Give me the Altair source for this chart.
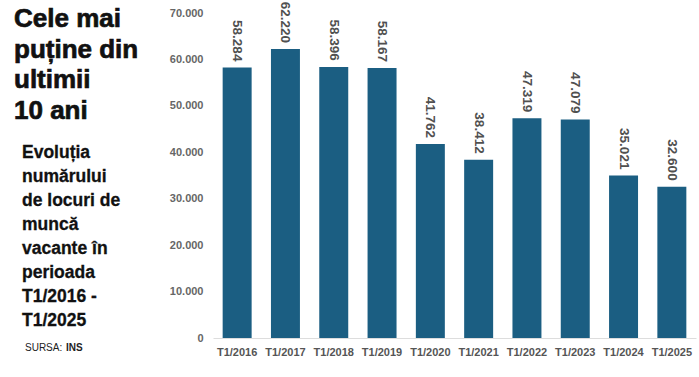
import altair as alt
import pandas as pd

categories = ["T1/2016", "T1/2017", "T1/2018", "T1/2019", "T1/2020",
              "T1/2021", "T1/2022", "T1/2023", "T1/2024", "T1/2025"]
values = [58284, 62220, 58396, 58167, 41762, 38412, 47319, 47079, 35021, 32600]
labels = ["58.284", "62.220", "58.396", "58.167", "41.762",
          "38.412", "47.319", "47.079", "35.021", "32.600"]

title_lines = ["Cele mai", "puține din", "ultimii", "10 ani"]
subtitle_lines = ["Evoluția", "numărului", "de locuri de", "muncă",
                  "vacante în", "perioada", "T1/2016 -", "T1/2025"]

df = pd.DataFrame({"cat": categories, "val": values, "lab": labels})

BAR = "#1b5e82"
LIB = "'Liberation Sans', Arial, sans-serif"

base = alt.Chart(df)

bars = base.mark_bar(color=BAR).encode(
    x=alt.X("cat:N", sort=categories,
            scale=alt.Scale(paddingInner=0.4, paddingOuter=0.2),
            axis=alt.Axis(title=None, labelAngle=0, ticks=False, domain=True,
                          domainColor="#dddddd", labelFont=LIB, labelFontSize=11,
                          labelFontWeight="bold", labelColor="#555555",
                          labelPadding=8)),
    y=alt.Y("val:Q", scale=alt.Scale(domain=[0, 70000], nice=False),
            axis=alt.Axis(title=None, values=[0, 10000, 20000, 30000, 40000, 50000, 60000, 70000],
                          grid=False, domain=False, ticks=False,
                          labelExpr="replace(format(datum.value, ','), ',', '.')",
                          labelFont=LIB, labelFontSize=11, labelFontWeight="bold",
                          labelColor="#666666", labelPadding=10)),
)

text = base.mark_text(angle=90, align="right", baseline="middle", dx=-6,
                      font=LIB, fontSize=13.5, fontWeight="bold", color="#505050").encode(
    x=alt.X("cat:N", sort=categories),
    y="val:Q",
    text="lab:N",
)

one = alt.Data(values=[{}])

title_txt = alt.Chart(one).mark_text(
    text=title_lines, align="left", baseline="alphabetic", lineHeight=30.5,
    font=LIB, fontSize=26, fontWeight="bold",
    color="#111111", stroke="#111111", strokeWidth=0.7
).encode(x=alt.value(-199), y=alt.value(14))

sub_txt = alt.Chart(one).mark_text(
    text=subtitle_lines, align="left", baseline="alphabetic", lineHeight=24,
    font=LIB, fontSize=17.5, fontWeight="bold", color="#111111",
    stroke="#111111", strokeWidth=0.3
).encode(x=alt.value(-191), y=alt.value(145))

src1 = alt.Chart(one).mark_text(
    text="SURSA:", align="left", baseline="alphabetic",
    font=LIB, fontSize=10, color="#222222"
).encode(x=alt.value(-188), y=alt.value(338))

src2 = alt.Chart(one).mark_text(
    text="INS", align="left", baseline="alphabetic",
    font=LIB, fontSize=10, fontWeight="bold", color="#222222"
).encode(x=alt.value(-147), y=alt.value(338))

chart = alt.layer(bars, text, title_txt, sub_txt, src1, src2).properties(
    width=483, height=325,
    autosize=alt.AutoSizeParams(type="none"),
    padding={"left": 213, "top": 13, "right": 3, "bottom": 39},
    background="white",
).configure_view(stroke=None)

chart.save("out.html", embed_options={"renderer": "svg", "actions": False})
